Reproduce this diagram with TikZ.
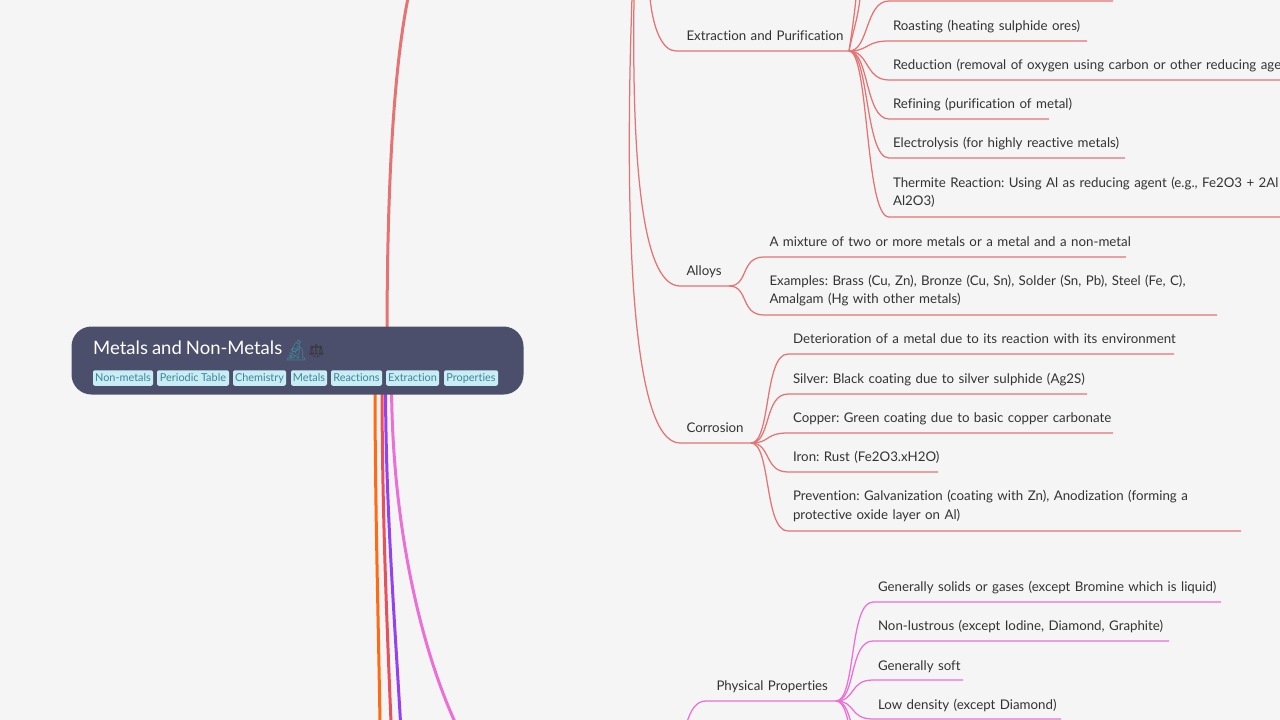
\documentclass[tikz,border=0pt]{standalone}
\usepackage{fontspec}
\setmainfont[Ligatures=CommonOff, WordSpace=0.85]{Lato}
\newfontfamily\emojifont{Noto Emoji}
\frenchspacing
\definecolor{paper}{HTML}{F5F5F5}
\definecolor{rootfill}{HTML}{4C4F6B}
\definecolor{tagfill}{HTML}{C9EDF5}
\definecolor{tagtext}{HTML}{3F8496}
\definecolor{inktext}{HTML}{333333}
\definecolor{salmon}{HTML}{E57373}
\definecolor{orchid}{HTML}{EC6FD5}
\definecolor{tangerine}{HTML}{FF6A13}
\definecolor{crimson}{HTML}{E8505B}
\definecolor{violet}{HTML}{9440F5}
\tikzset{
  leaf/.style={anchor=base west, inner sep=0pt, outer sep=0pt, font=\fontsize{13.3}{18.6}\selectfont, text=inktext, text width=520pt},
  tag/.style={fill=tagfill, rounded corners=2pt, inner sep=0pt, minimum height=15.5pt, text=tagtext, font=\fontsize{10.9}{12}\selectfont},
  twig/.style={line width=1.25pt, to path={.. controls +(#1,0) and +(-24,0) .. (\tikztotarget)}},
  twig/.default=20,
  trunk/.style={line width=3pt},
  limb/.style={line width=1.25pt}
}
\begin{document}
\begin{tikzpicture}[x=1pt, y=-1pt]
    \useasboundingbox[fill=paper] (0,0) rectangle (1280,720);
    \clip (0,0) rectangle (1280,720);

    % main branches
    \coordinate (top_in) at (408,-2);
    \coordinate (top_out) at (387,340);
    \coordinate (o_out) at (375,380);
    \coordinate (o_in) at (380,722);
    \coordinate (r_out) at (382,380);
    \coordinate (r_in) at (391,722);
    \coordinate (v_out) at (385.5,380);
    \coordinate (v_in) at (400.5,722);
    \coordinate (p_out) at (391.5,380);
    \coordinate (p_in) at (455,722);
    \draw[trunk, salmon] (top_out) .. controls +(0,-180) and +(-12,60) .. (top_in);
    \draw[trunk, tangerine] (o_out) .. controls +(0,120) and +(-2,-120) .. (o_in);
    \draw[trunk, crimson] (r_out) .. controls +(0,120) and +(-5,-120) .. (r_in);
    \draw[trunk, violet] (v_out) .. controls +(0,120) and +(-7,-120) .. (v_in);
    \draw[trunk, orchid] (p_out) .. controls +(0,150) and +(-32,-70) .. (p_in);

    % root
    \node[fill=rootfill, rounded corners=20pt, minimum width=452pt, minimum height=68pt, inner sep=0pt](root) at (297.5,360.5){};
    \node[anchor=base west, inner sep=0pt, text=white, font=\fontsize{18.5}{22}\selectfont](title) at (93,354){Metals and Non-Metals};
    \node[anchor=base west, inner sep=0pt, text=tagtext, font=\emojifont\fontsize{20}{22}\selectfont](scope_icon) at (283.5,357){\symbol{"1F52C}};
    \node[anchor=base west, inner sep=0pt, text=inktext, font=\emojifont\fontsize{13}{22}\selectfont](scale_icon) at (308,355){\symbol{"2696}};
    \node[tag, minimum width=60pt](t1) at (123,378){Non-metals};
    \node[tag, minimum width=72pt](t2) at (193,378){Periodic Table};
    \node[tag, minimum width=53pt](t3) at (259.5,378){Chemistry};
    \node[tag, minimum width=36pt](t4) at (309,378){Metals};
    \node[tag, minimum width=51pt](t5) at (356.5,378){Reactions};
    \node[tag, minimum width=53pt](t6) at (412.5,378){Extraction};
    \node[tag, minimum width=54pt](t7) at (471,378){Properties};

    % salmon section
    \coordinate (up_a) at (650,-2);
    \coordinate (up_b) at (634,-2);
    \coordinate (up_c) at (632,-2);
    \coordinate (ext_s) at (676,51);
    \coordinate (ext_e) at (849,51);
    \coordinate (alloy_s) at (680,286);
    \coordinate (alloy_e) at (729,286);
    \coordinate (cor_s) at (680,443);
    \coordinate (cor_e) at (751,443);
    \node[leaf](ext) at (686.5,40){Extraction and Purification};
    \node[leaf](alloy) at (686.5,275){Alloys};
    \node[leaf](cor) at (686.5,432){Corrosion};
    \draw[limb, salmon] (up_a) .. controls +(3,30) and +(-14,0) .. (ext_s) -- (ext_e);
    \draw[limb, salmon] (up_b) .. controls (632,150) and (640,286) .. (alloy_s) -- (alloy_e);
    \draw[limb, salmon] (up_c) .. controls (624,230) and (632,443) .. (cor_s) -- (cor_e);

    % extraction
    \coordinate (l0_s) at (889,1);
    \coordinate (l0_e) at (1113,1);
    \coordinate (l1_s) at (889,41);
    \coordinate (l1_e) at (1087,41);
    \coordinate (l2_s) at (889,80);
    \coordinate (l2_e) at (1282,80);
    \coordinate (l3_s) at (889,119);
    \coordinate (l3_e) at (1049,119);
    \coordinate (l4_s) at (889,158);
    \coordinate (l4_e) at (1125,158);
    \coordinate (l5_s) at (889,217);
    \coordinate (l5_e) at (1282,217);
    \coordinate (l_up) at (860,-2);
    \coordinate (l_up2) at (856,-2);
    \node[leaf](l1) at (893,30){Roasting (heating sulphide ores)};
    \node[leaf](l2) at (893,69){Reduction (removal of oxygen using carbon or other reducing age};
    \node[leaf](l3) at (893,108.5){Refining (purification of metal)};
    \node[leaf](l4) at (893,147.5){Electrolysis (for highly reactive metals)};
    \node[leaf](l5) at (893,187){Thermite Reaction: Using Al as reducing agent (e.g., Fe2O3 + 2Al -\\Al2O3)};
    \draw[salmon, twig] (ext_e) to (l0_s) -- (l0_e);
    \draw[salmon, twig] (ext_e) to (l1_s) -- (l1_e);
    \draw[salmon, twig] (ext_e) to (l2_s) -- (l2_e);
    \draw[salmon, twig] (ext_e) to (l3_s) -- (l3_e);
    \draw[salmon, twig] (ext_e) to (l4_s) -- (l4_e);
    \draw[salmon, twig] (ext_e) to (l5_s) -- (l5_e);
    \draw[limb, salmon] (ext_e) .. controls +(4,-20) and +(-2,20) .. (l_up);
    \draw[limb, salmon] (ext_e) .. controls +(3,-20) and +(-2,20) .. (l_up2);

    % alloys
    \coordinate (a1_s) at (764,257);
    \coordinate (a1_e) at (1126,257);
    \coordinate (a2_s) at (764,315);
    \coordinate (a2_e) at (1217,315);
    \node[leaf](a1) at (769.5,246){A mixture of two or more metals or a metal and a non-metal};
    \node[leaf](a2) at (769.5,285){Examples: Brass (Cu, Zn), Bronze (Cu, Sn), Solder (Sn, Pb), Steel (Fe, C),\\Amalgam (Hg with other metals)};
    \draw[salmon, twig] (alloy_e) to (a1_s) -- (a1_e);
    \draw[salmon, twig] (alloy_e) to (a2_s) -- (a2_e);

    % corrosion
    \coordinate (c1_s) at (788,354);
    \coordinate (c1_e) at (1174,354);
    \coordinate (c2_s) at (788,394);
    \coordinate (c2_e) at (1087,394);
    \coordinate (c3_s) at (788,433);
    \coordinate (c3_e) at (1113,433);
    \coordinate (c4_s) at (788,472);
    \coordinate (c4_e) at (938,472);
    \coordinate (c5_s) at (788,531);
    \coordinate (c5_e) at (1241,531);
    \node[leaf](c1) at (793,343.5){Deterioration of a metal due to its reaction with its environment};
    \node[leaf](c2) at (793,383){Silver: Black coating due to silver sulphide (Ag2S)};
    \node[leaf](c3) at (793,422){Copper: Green coating due to basic copper carbonate};
    \node[leaf](c4) at (793,461){Iron: Rust (Fe2O3.xH2O)};
    \node[leaf](c5) at (793,500.5){Prevention: Galvanization (coating with Zn), Anodization (forming a\\protective oxide layer on Al)};
    \draw[salmon, twig] (cor_e) to (c1_s) -- (c1_e);
    \draw[salmon, twig] (cor_e) to (c2_s) -- (c2_e);
    \draw[salmon, twig] (cor_e) to (c3_s) -- (c3_e);
    \draw[salmon, twig] (cor_e) to (c4_s) -- (c4_e);
    \draw[salmon, twig] (cor_e) to (c5_s) -- (c5_e);

    % non-metal physical properties
    \coordinate (phys_s) at (706,701);
    \coordinate (phys_e) at (836,701);
    \coordinate (phys_in) at (687,722);
    \node[leaf](phys) at (716.5,690){Physical Properties};
    \draw[limb, orchid] (phys_in) .. controls +(4,-12) and +(-10,0) .. (phys_s) -- (phys_e);
    \coordinate (n1_s) at (873,602);
    \coordinate (n1_e) at (1221,602);
    \coordinate (n2_s) at (873,641);
    \coordinate (n2_e) at (1169,641);
    \coordinate (n3_s) at (873,680);
    \coordinate (n3_e) at (963,680);
    \coordinate (n4_s) at (873,719);
    \coordinate (n4_e) at (1061,719);
    \coordinate (n5_s) at (873,760);
    \coordinate (n6_s) at (873,800);
    \node[leaf](n1) at (878,591){Generally solids or gases (except Bromine which is liquid)};
    \node[leaf](n2) at (878,630.5){Non-lustrous (except Iodine, Diamond, Graphite)};
    \node[leaf](n3) at (878,670){Generally soft};
    \node[leaf](n4) at (878,709){Low density (except Diamond)};
    \draw[orchid, twig] (phys_e) to (n1_s) -- (n1_e);
    \draw[orchid, twig] (phys_e) to (n2_s) -- (n2_e);
    \draw[orchid, twig] (phys_e) to (n3_s) -- (n3_e);
    \draw[orchid, twig] (phys_e) to (n4_s) -- (n4_e);
    \draw[orchid, twig] (phys_e) to (n5_s);
    \draw[orchid, twig] (phys_e) to (n6_s);
\end{tikzpicture}
\end{document}
